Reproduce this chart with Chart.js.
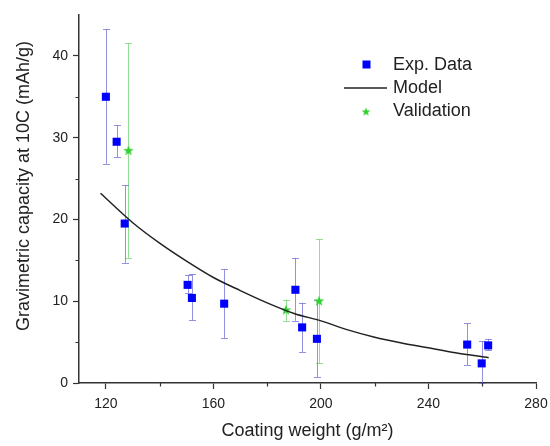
<!DOCTYPE html>
<html><head><meta charset="utf-8">
<script src="https://cdn.jsdelivr.net/npm/chart.js@4/dist/chart.umd.min.js"></script>
<style>html,body{margin:0;padding:0;background:#fff}#wrap{width:550px;height:446px}</style>
</head><body><div id="wrap"><canvas id="c" width="550" height="446"></canvas></div>
<script>
// ---- data ----
const expX    = [120, 124, 127, 150.4, 152, 164, 190.5, 193, 198.5, 254.4, 259.8, 262.2];
const expY    = [35.0, 29.5, 19.5, 12.0, 10.4, 9.7, 11.4, 6.8, 5.4, 4.7, 2.4, 4.6];
const expLow  = [26.8, 27.6, 14.7, 11.0, 7.7, 5.5, 7.6, 3.8, 0.7, 2.2, 0.0, 4.0];
const expHigh = [43.3, 31.5, 24.2, 13.2, 13.3, 13.9, 15.3, 9.8, 10.1, 7.3, 5.1, 5.4];
const valX    = [128.4, 187, 199.3];
const valY    = [28.4, 8.9, 10.0];
const valLow  = [15.3, 7.6, 2.4];
const valHigh = [41.6, 10.2, 17.6];
const modelX  = [118, 130, 140, 150, 160, 170, 180, 190, 200, 210, 220, 230, 240, 250, 262.4];
const modelY  = [23.2, 19.6, 17.1, 14.9, 12.9, 11.3, 9.8, 8.5, 7.6, 6.5, 5.6, 4.9, 4.3, 3.7, 3.1];
const xTicks  = [120, 160, 200, 240, 280];
const xMinor  = [140, 180, 220, 260];
const yTicks  = [0, 10, 20, 30, 40];
const yMinor  = [5, 15, 25, 35];
const seriesNames = ['Exp. Data', 'Model', 'Validation'];
const xTitle = 'Coating weight (g/m²)';
const yTitle = 'Gravimetric capacity at 10C (mAh/g)';

// ---- styles ----
const FONT = '"Liberation Sans", Arial, sans-serif';
const TXT = '#222';
const AX = '#333';
const BLUE = '#0000ff';
const GREEN = '#2fd02f';
const BLUE_ERR = 'rgba(110,110,215,0.75)';
const GREEN_ERR = 'rgba(120,215,120,0.8)';

function makeStar(size, color) {
  const c = document.createElement('canvas');
  c.width = size; c.height = size;
  const g = c.getContext('2d');
  const cx = size / 2, cy = size / 2, ro = size / 2 - 0.5, ri = ro * 0.42;
  g.beginPath();
  for (let i = 0; i < 10; i++) {
    const r = i % 2 ? ri : ro;
    const a = -Math.PI / 2 + i * Math.PI / 5;
    const px = cx + r * Math.cos(a), py = cy + r * Math.sin(a);
    i ? g.lineTo(px, py) : g.moveTo(px, py);
  }
  g.closePath();
  g.fillStyle = color;
  g.fill();
  return c;
}
const starImg = makeStar(12, GREEN);

const errorBars = {
  id: 'errorBars',
  beforeDatasetsDraw(chart) {
    const {ctx, scales: {x, y}} = chart;
    const draw = (xs, lo, hi, color) => {
      ctx.save();
      ctx.strokeStyle = color;
      ctx.lineWidth = 1;
      xs.forEach((xv, i) => {
        const px = Math.round(x.getPixelForValue(xv)) + 0.5;
        const p1 = y.getPixelForValue(lo[i]);
        const p2 = y.getPixelForValue(hi[i]);
        ctx.beginPath();
        ctx.moveTo(px, p1); ctx.lineTo(px, p2);
        ctx.moveTo(px - 3.5, Math.round(p1) + 0.5); ctx.lineTo(px + 3.5, Math.round(p1) + 0.5);
        ctx.moveTo(px - 3.5, Math.round(p2) + 0.5); ctx.lineTo(px + 3.5, Math.round(p2) + 0.5);
        ctx.stroke();
      });
      ctx.restore();
    };
    draw(valX, valLow, valHigh, GREEN_ERR);
    draw(expX, expLow, expHigh, BLUE_ERR);
  }
};

const extras = {
  id: 'extras',
  afterDraw(chart) {
    const {ctx, chartArea: ca, scales: {x, y}} = chart;
    ctx.save();
    // minor ticks
    ctx.strokeStyle = AX;
    ctx.lineWidth = 1.2;
    ctx.beginPath();
    xMinor.forEach(v => {
      const px = Math.round(x.getPixelForValue(v)) + 0.5;
      ctx.moveTo(px, ca.bottom); ctx.lineTo(px, ca.bottom + 3.5);
    });
    yMinor.forEach(v => {
      const py = Math.round(y.getPixelForValue(v)) + 0.5;
      ctx.moveTo(ca.left, py); ctx.lineTo(ca.left - 3.5, py);
    });
    ctx.stroke();
    // y title
    ctx.fillStyle = TXT;
    ctx.font = '18px ' + FONT;
    ctx.textAlign = 'center';
    ctx.textBaseline = 'middle';
    ctx.translate(24, 186);
    ctx.rotate(-Math.PI / 2);
    ctx.fillText(yTitle, 0, 0);
    ctx.restore();

    // legend
    ctx.save();
    ctx.font = '18px ' + FONT;
    ctx.fillStyle = TXT;
    ctx.textAlign = 'left';
    ctx.textBaseline = 'middle';
    const tx = 393;
    ctx.fillText(seriesNames[0], tx, 65);
    ctx.fillText(seriesNames[1], tx, 88);
    ctx.fillText(seriesNames[2], tx, 111);
    ctx.fillStyle = BLUE;
    ctx.fillRect(362.5, 60.5, 8, 8);
    ctx.strokeStyle = '#222';
    ctx.lineWidth = 1.5;
    ctx.beginPath(); ctx.moveTo(344, 88); ctx.lineTo(387, 88); ctx.stroke();
    ctx.drawImage(starImg, 366 - 5, 112 - 5, 10, 10);
    ctx.restore();
  }
};

new Chart(document.getElementById('c'), {
  type: 'scatter',
  data: {
    datasets: [
      {
        label: seriesNames[1], type: 'line',
        data: modelX.map((v, i) => ({x: v, y: modelY[i]})),
        borderColor: '#222', borderWidth: 1.5, pointRadius: 0,
        cubicInterpolationMode: 'monotone', fill: false, order: 0
      },
      {
        label: seriesNames[0],
        data: expX.map((v, i) => ({x: v, y: expY[i]})),
        pointStyle: 'rect', radius: 5.7, backgroundColor: BLUE, borderWidth: 0, order: 1
      },
      {
        label: seriesNames[2],
        data: valX.map((v, i) => ({x: v, y: valY[i]})),
        pointStyle: starImg, radius: 6, backgroundColor: GREEN, borderWidth: 0, order: 1
      }
    ]
  },
  options: {
    responsive: false, animation: false, devicePixelRatio: 1,
    layout: {padding: {left: 0, right: 14, top: 15, bottom: 0}},
    plugins: {legend: {display: false}, tooltip: {enabled: false}},
    scales: {
      x: {
        type: 'linear', min: 110, max: 280,
        afterBuildTicks: s => { s.ticks = xTicks.map(v => ({value: v})); },
        afterFit: s => { s.height = 63; s.paddingLeft = 0; s.paddingRight = 0; },
        grid: {drawOnChartArea: false, drawTicks: true, tickLength: 6, tickColor: AX, tickWidth: 1.2},
        border: {display: true, color: AX, width: 1.5},
        ticks: {font: {family: FONT, size: 14}, color: TXT, padding: 7, maxRotation: 0},
        title: {display: true, text: xTitle, font: {family: FONT, size: 18}, color: TXT, padding: {top: 0, bottom: 4}}
      },
      y: {
        type: 'linear', min: 0, max: 45,
        afterBuildTicks: s => { s.ticks = yTicks.map(v => ({value: v})); },
        afterFit: s => { s.width = 79; s.paddingTop = 0; s.paddingBottom = 0; },
        grid: {drawOnChartArea: false, drawTicks: true, tickLength: 6, tickColor: AX, tickWidth: 1.2},
        border: {display: true, color: AX, width: 1.5},
        ticks: {font: {family: FONT, size: 14}, color: TXT, padding: 5},
        title: {display: false}
      }
    }
  },
  plugins: [errorBars, extras]
});
</script>
</body></html>
